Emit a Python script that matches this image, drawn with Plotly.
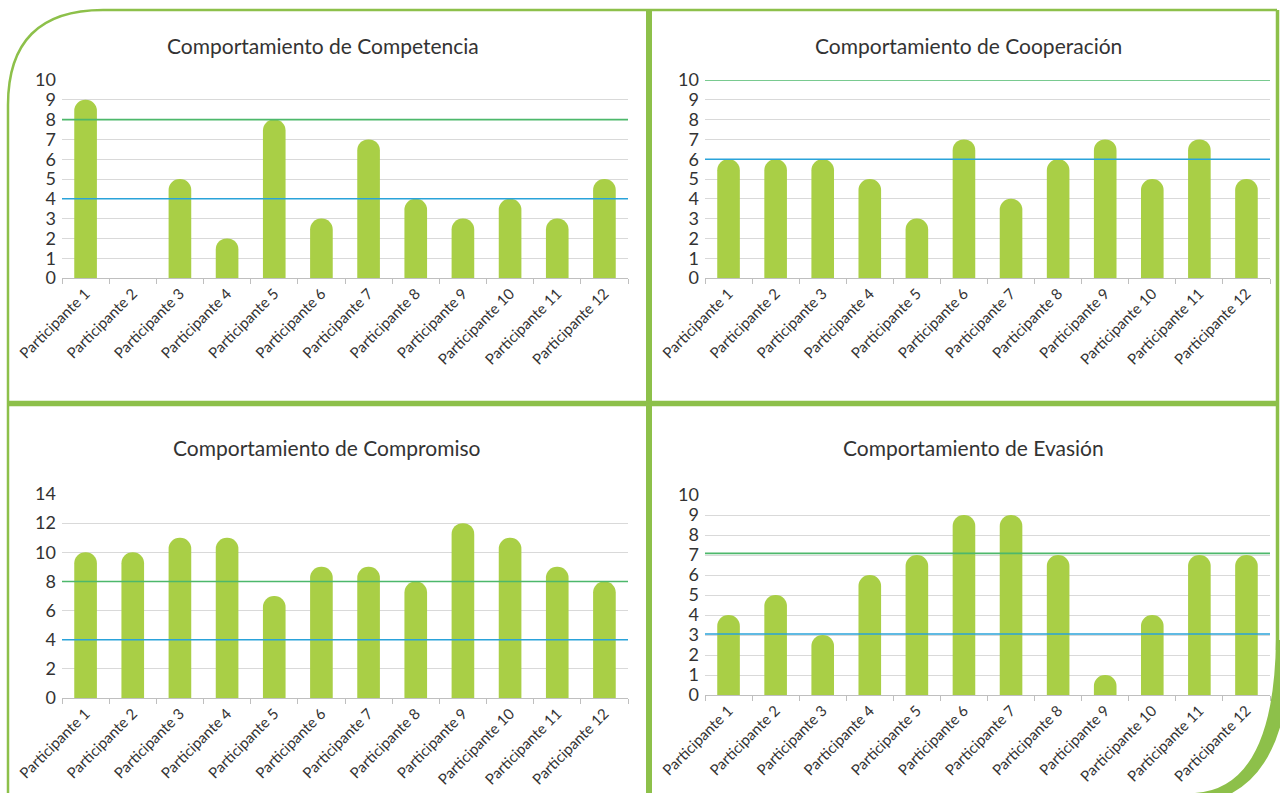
import plotly.graph_objects as go

W, H = 1280, 793

categories = [f"Participante {i}" for i in range(1, 13)]

titles = ["Comportamiento de Competencia", "Comportamiento de Cooperación",
          "Comportamiento de Compromiso", "Comportamiento de Evasión"]

competencia = [9, 0, 5, 2, 8, 3, 7, 4, 3, 4, 3, 5]
cooperacion = [6, 6, 6, 5, 3, 7, 4, 6, 7, 5, 7, 5]
compromiso = [10, 10, 11, 11, 7, 9, 9, 8, 12, 11, 9, 8]
evasion = [4, 5, 3, 6, 7, 9, 9, 7, 1, 4, 7, 7]

green_ref = [8, 10, 8, 7.08]
blue_ref = [4, 6, 4, 3.05]

y_max = [10, 10, 14, 10]
y_dtick = [1, 1, 2, 1]

series = [competencia, cooperacion, compromiso, evasion]

# pixel boxes of plot areas: (left, right, top, bottom)
boxes = [(62, 628, 80, 278), (705, 1270, 80, 278),
         (62, 628, 494, 698), (705, 1270, 495, 695)]
title_pos = [(323, 45), (968, 45), (327, 447), (973, 447)]

BAR = "#A9CF46"
GRID = "#D9D9D9"
FRAME = "#8DC04A"
TXT = "#333333"
FONT = "Lato"

fig = go.Figure()
shapes = []
annotations = []

for i, (vals, box) in enumerate(zip(series, boxes)):
    n = "" if i == 0 else str(i + 1)
    fig.add_trace(go.Bar(
        x=categories, y=vals, xaxis="x" + n, yaxis="y" + n,
        marker=dict(color=BAR, cornerradius="50%", line=dict(width=0)),
        width=0.48, showlegend=False, hoverinfo="x+y"))
    l, r, t, b = box
    xd = [l / W, r / W]
    yd = [1 - b / H, 1 - t / H]
    fig.update_layout(**{
        "xaxis" + n: dict(domain=xd, anchor="y" + n, showline=True, linecolor="#BFBFBF",
                          linewidth=1, ticks="outside", tickson="boundaries", ticklen=5,
                          tickcolor="#BFBFBF", tickangle=-45, showgrid=False, automargin=False,
                          tickfont=dict(family=FONT, size=15, color=TXT)),
        "yaxis" + n: dict(domain=yd, anchor="x" + n, range=[0, y_max[i]], dtick=y_dtick[i],
                          showgrid=True, gridcolor=GRID, gridwidth=1, zeroline=False,
                          showline=False, ticks="", ticklabelstandoff=5, automargin=False,
                          tickfont=dict(family=FONT, size=18, color=TXT)),
    })
    xr = "x" + n + " domain"
    yr = "y" + n
    shapes.append(dict(type="line", xref=xr, yref=yr, x0=0, x1=1, y0=green_ref[i], y1=green_ref[i],
                       line=dict(color="#4DB86B", width=1.6), layer="above"))
    shapes.append(dict(type="line", xref=xr, yref=yr, x0=0, x1=1, y0=blue_ref[i], y1=blue_ref[i],
                       line=dict(color="#2AA3DA", width=1.6), layer="above"))
    tx, ty = title_pos[i]
    annotations.append(dict(text=titles[i], x=tx / W, y=1 - ty / H, xref="paper", yref="paper",
                            xanchor="center", yanchor="middle", showarrow=False,
                            font=dict(family=FONT, size=21, color=TXT)))


def px(x, y):
    return f"{x / W:.5f},{1 - y / H:.5f}"


# frame: top border + top-left rounded corner + left border
R = 95
frame_path = (f"M {px(8, 793)} L {px(8, 10 + R)} "
              f"Q {px(8, 10)} {px(8 + R, 10)} L {px(1277, 10)}")
shapes.append(dict(type="path", xref="paper", yref="paper", path=frame_path,
                   line=dict(color=FRAME, width=2.5), layer="below"))
# right border
shapes.append(dict(type="line", xref="paper", yref="paper", x0=1277.5 / W, x1=1277.5 / W,
                   y0=1 - 10 / H, y1=1 - 650 / H, line=dict(color=FRAME, width=3.5)))
# bottom-right crescent
cres = (f"M {px(1276, 640)} Q {px(1274, 788)} {px(1195, 793)} L {px(1180, 805)} "
        f"Q {px(1292, 805)} {px(1290, 640)} Z")
shapes.append(dict(type="path", xref="paper", yref="paper", path=cres,
                   fillcolor=FRAME, line=dict(width=0)))
# dividers
shapes.append(dict(type="line", xref="paper", yref="paper", x0=8 / W, x1=1279 / W,
                   y0=1 - 403.5 / H, y1=1 - 403.5 / H, line=dict(color=FRAME, width=5.5)))
shapes.append(dict(type="line", xref="paper", yref="paper", x0=649 / W, x1=649 / W,
                   y0=1 - 10 / H, y1=0, line=dict(color=FRAME, width=6)))

fig.update_layout(width=W, height=H, margin=dict(l=0, r=0, t=0, b=0, autoexpand=False),
                  paper_bgcolor="white", plot_bgcolor="white",
                  shapes=shapes, annotations=annotations, showlegend=False,
                  font=dict(family=FONT, color=TXT))

fig.write_html("out.html", config={"displayModeBar": False})
